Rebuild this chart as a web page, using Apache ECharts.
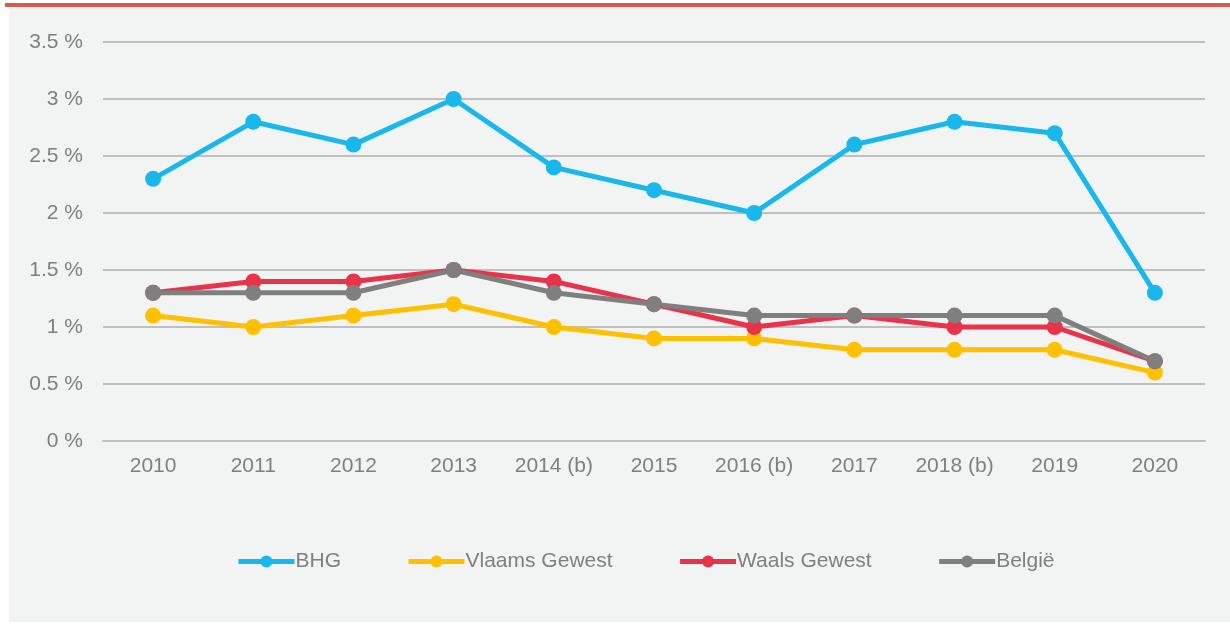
<!DOCTYPE html>
<html>
<head>
<meta charset="utf-8">
<script src="https://cdn.jsdelivr.net/npm/echarts@6/dist/echarts.min.js"></script>
<style>
	html, body { margin: 0; padding: 0; background: #fff; }
	#chart { width: 1230px; height: 626px; }
</style>
</head>
<body>
<div id="chart"></div>
<script>
// data
const years = ['2010', '2011', '2012', '2013', '2014 (b)', '2015', '2016 (b)', '2017', '2018 (b)', '2019', '2020']
const bhg = [2.3, 2.8, 2.6, 3.0, 2.4, 2.2, 2.0, 2.6, 2.8, 2.7, 1.3]
const vlaams = [1.1, 1.0, 1.1, 1.2, 1.0, 0.9, 0.9, 0.8, 0.8, 0.8, 0.6]
const waals = [1.3, 1.4, 1.4, 1.5, 1.4, 1.2, 1.0, 1.1, 1.0, 1.0, 0.7]
const belgie = [1.3, 1.3, 1.3, 1.5, 1.3, 1.2, 1.1, 1.1, 1.1, 1.1, 0.7]

const seriesNames = ['BHG', 'Vlaams Gewest', 'Waals Gewest', 'België']
const seriesValues = [bhg, vlaams, waals, belgie]
const colorList = ['#19b8ec', '#ffc000', '#e8334a', '#7f7f7f']

const font = 'Liberation Sans, Arial, sans-serif'
const textColor = '#7f7f7f'

let series = []
seriesNames.forEach((name, index) => {
	series.push({
		name: name,
		type: 'line',
		symbol: 'circle',
		symbolSize: 16,
		data: seriesValues[index],
		itemStyle: { color: colorList[index] },
		lineStyle: { width: 5, color: colorList[index] },
		emphasis: { disabled: true },
	})
})

let option = {
	backgroundColor: '#ffffff',
	animation: false,
	color: colorList,
	graphic: [
		{
			type: 'rect',
			z: -10,
			shape: { x: 5, y: 3, width: 1225, height: 4 },
			style: { fill: '#dc5a4b' },
		},
		{
			type: 'rect',
			z: -10,
			shape: { x: 9, y: 8, width: 1221, height: 614 },
			style: { fill: '#f2f3f3' },
		},
	],
	legend: {
		left: 231,
		top: 546,
		itemWidth: 56,
		itemHeight: 15,
		itemGap: 65,
		lineStyle: { width: 5 },
		textStyle: {
			fontFamily: font,
			fontSize: 21,
			color: textColor,
			padding: [0, 0, 0, -4],
		},
		data: seriesNames,
	},
	grid: {
		top: 42,
		left: 103,
		right: 25,
		bottom: 185,
	},
	xAxis: {
		type: 'category',
		data: years,
		axisLine: { lineStyle: { color: '#bfbfbf', width: 2 } },
		axisTick: { show: false },
		axisLabel: {
			interval: 0,
			margin: 15,
			fontFamily: font,
			fontSize: 21,
			color: textColor,
		},
	},
	yAxis: {
		type: 'value',
		min: 0,
		max: 3.5,
		interval: 0.5,
		axisLine: { show: false },
		axisTick: { show: false },
		splitLine: { lineStyle: { color: '#bfbfbf', width: 2 } },
		axisLabel: {
			margin: 20,
			fontFamily: font,
			fontSize: 21,
			color: textColor,
			formatter: (v) => `${v} %`,
		},
	},
	series: series,
}

let myChart = echarts.init(document.getElementById('chart'))
myChart.setOption(option)
</script>
</body>
</html>
